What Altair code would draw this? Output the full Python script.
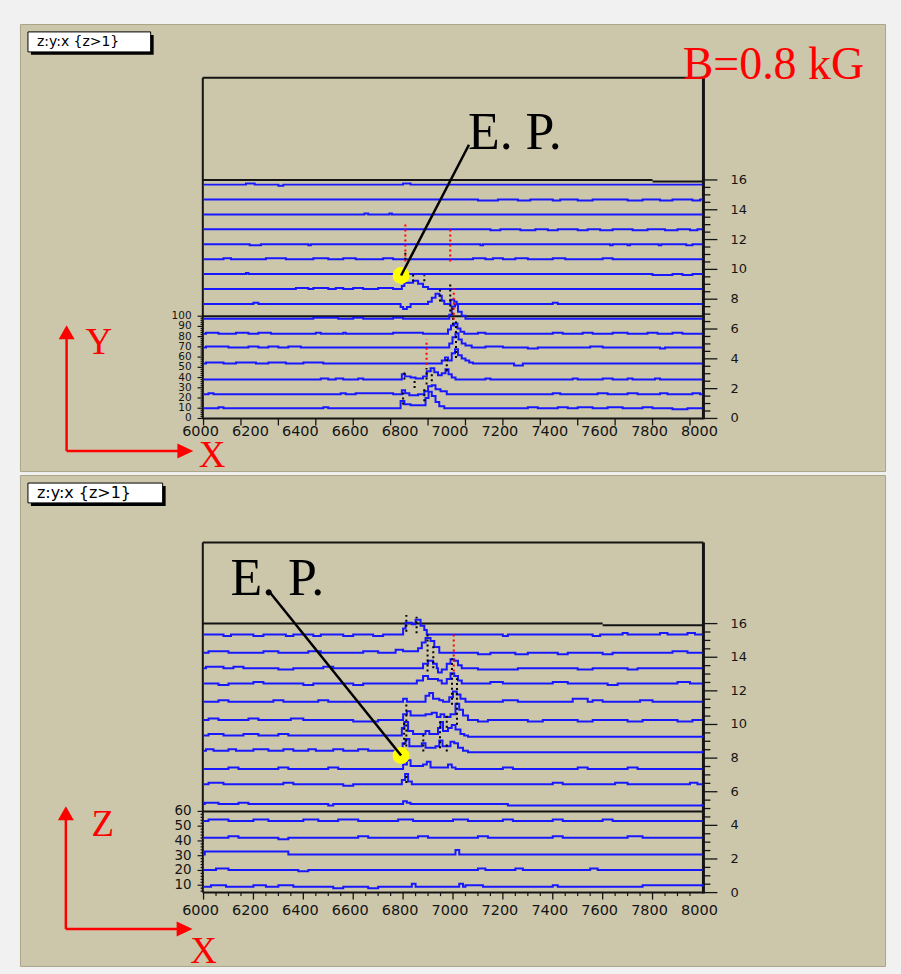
import altair as alt
import pandas as pd

# ---------- colours ----------
PAGE = "#f1f1f1"
TAN = "#ccc7ab"
BLUE = "#1818ff"
INK = "#141414"
RED = "#ff0000"
SPOT = "#ffff00"

# ---------- axis values ----------
X_DOMAIN = [5264, 8732]
X_LABELS = [6000, 6200, 6400, 6600, 6800, 7000, 7200, 7400, 7600, 7800, 8000]
ROW_LABELS = [0, 2, 4, 6, 8, 10, 12, 14, 16]
TOP_Z_LABELS = [0, 10, 20, 30, 40, 50, 60, 70, 80, 90, 100]
BOT_Z_LABELS = [10, 20, 30, 40, 50, 60]

# ---------- upper panel: 16 traces (baseline counts, small steps, peaks) ----------
TOP_BASE = [10, 9, 9, 10, 11, 10, 10, 10, 10, 10, 10, 10, 10, 10, 10, 10]
TOP_BLIPS = {
    0: [(6060, 6080, 1), (6480, 6500, 1), (7300, 7340, 1), (7420, 7460, 1), (7500, 7560, 1),
        (7620, 7680, 1), (7760, 7800, 1), (7880, 7940, -1)],
    1: [(6020, 6040, 1), (6550, 6570, 1), (6610, 6760, 1), (7400, 7430, 1), (7580, 7620, 1),
        (7700, 7740, 1), (7830, 7860, 1), (7960, 7990, 1)],
    2: [(6470, 6500, 1), (6530, 6560, 1), (6620, 6640, 1), (7130, 7150, 1), (7480, 7500, 1),
        (7600, 7640, 1), (7700, 7720, 1), (7810, 7830, 1)],
    3: [(6010, 6080, 1), (6130, 6210, 1), (6260, 6330, 1), (6400, 6480, 1), (7245, 7280, -2)],
    4: [(6010, 6100, 1), (6180, 6220, 1), (6260, 6300, 1), (6340, 6390, 1), (7130, 7200, 1),
        (7300, 7340, -1), (7550, 7600, 1), (7830, 7850, -1)],
    5: [(6010, 6060, 1), (6130, 6180, 1), (6220, 6270, 1), (6450, 6470, 1), (6560, 6570, 1),
        (6760, 6880, 1), (7100, 7130, 1), (7400, 7440, 1), (7520, 7560, 1), (7640, 7700, 1),
        (7780, 7820, 1), (7880, 7920, 1)],
    6: [(6440, 6540, 1), (6600, 6640, 1), (6760, 6800, 1)],
    7: [(6200, 6220, 1), (7400, 7420, 1)],
    8: [(6370, 6420, 1), (6440, 6500, 1), (6530, 6560, 1), (6600, 6640, 1), (6700, 6760, 1)],
    9: [(6170, 6180, 1), (7800, 7880, -1), (7920, 7960, -1)],
    10: [(6080, 6110, 1), (6250, 6330, 1), (6440, 6500, 1), (6560, 6610, 1), (6720, 6760, 1),
         (7080, 7130, 1), (7160, 7200, 1), (7250, 7300, 1), (7400, 7450, 1), (7600, 7640, 1)],
    11: [(6185, 6230, -1), (6420, 6430, -1), (7110, 7120, -1), (7630, 7640, -1), (7700, 7710, -1),
         (7825, 7835, -1), (7935, 7960, -1)],
    12: [(7150, 7190, -1), (7270, 7330, -1), (7380, 7420, -1), (7500, 7540, -1), (7590, 7640, -1),
         (7720, 7780, -1), (7850, 7900, -1), (7950, 7980, -1)],
    13: [(6645, 6660, 1), (6745, 6755, 1)],
    14: [(7100, 7180, -1), (7260, 7310, -1), (7400, 7430, -1), (7500, 7560, -1), (7700, 7760, -1),
         (7830, 7880, -1), (7960, 7990, -1)],
    15: [(6170, 6205, 1), (6300, 6320, -1), (6800, 6830, 1)],
}
TOP_PEAKS = {
    0: [(6790, 17), (6805, 14), (6830, 13), (6870, 13), (6890, 20), (6902, 26), (6915, 22),
        (6930, 16), (6945, 12), (6965, 10)],
    1: [(6795, 13), (6808, 10), (6825, 8), (6860, 9), (6885, 12), (6900, 17), (6915, 18),
        (6930, 14), (6950, 12), (6975, 9)],
    2: [(6795, 14), (6808, 12), (6830, 11), (6850, 10), (6880, 12), (6895, 17), (6910, 20),
        (6925, 16), (6940, 13), (6955, 15), (6970, 19), (6982, 14), (6995, 11), (7010, 9)],
    3: [(6955, 13), (6968, 16), (6980, 13), (6995, 20), (7008, 24), (7020, 18), (7035, 15),
        (7050, 13), (7065, 11), (7080, 10)],
    4: [(6985, 15), (6998, 21), (7010, 25), (7022, 19), (7035, 15), (7050, 13), (7075, 11)],
    5: [(6980, 14), (6992, 18), (7005, 20), (7018, 15), (7030, 12), (7045, 10)],
    6: [(6985, 14), (6995, 22), (7008, 24), (7020, 17), (7035, 13), (7050, 10)],
    7: [(6790, 7), (6800, 5), (6815, 7), (6830, 10), (6900, 12), (6915, 16), (6930, 20),
        (6945, 18), (6955, 13), (6965, 10), (6990, 14), (7005, 12), (7015, 10)],
    8: [(6795, 13), (6805, 16), (6840, 18), (6860, 15), (6880, 12), (6900, 10)],
}
# dotted columns (x, lower, upper) in row units
TOP_BLACK = [(6809, 10.64, 11.31), (6840, 9.19, 9.75), (6885, 9.2, 9.6), (6948, 7.85, 8.63),
             (6989, 7.18, 9.08), (7000, 6.29, 7.63), (7012, 4.06, 6.51), (6805, 2.61, 3.17),
             (6846, 2.05, 2.72), (6894, 2.28, 3.39), (6915, 2.5, 3.2), (6975, 3.17, 4.06),
             (6800, 0.94, 1.83), (6885, 1.16, 2.05)]
TOP_RED = [(6809, 10.53, 13.21), (6989, 10.53, 12.76), (7003, 6.63, 8.74), (6894, 3.61, 5.29)]

# ---------- lower panel ----------
BOT_BASE = [9, 9, 8, 8, 8, 8, 10, 9, 10, 9, 8, 9, 10, 9, 8, 9]
BOT_BLIPS = {
    0: [(6030, 6090, 1), (6200, 6250, 1), (6300, 6360, 1), (6520, 6560, -1), (6660, 6700, -1),
        (7050, 7120, 1), (7400, 7420, 1), (7760, 8000, 1)],
    1: [(6050, 6100, 1), (6380, 6420, -1), (7100, 7130, 1), (7250, 7280, 1), (7550, 7580, 1)],
    2: [(6005, 6340, 2)],
    3: [(6100, 6140, 1), (6300, 6340, -1), (6620, 6660, 1), (6860, 6900, 1), (7100, 7140, 1),
        (7400, 7440, 1), (7700, 7760, 1)],
    4: [(6020, 6100, 1), (6200, 6260, 1), (6400, 6460, 1), (6540, 6620, 1), (6780, 6840, 1),
        (7000, 7060, 1), (7200, 7240, 1), (7400, 7440, 1), (7600, 7640, 1)],
    5: [(6005, 6060, 1), (6140, 6180, 1), (6500, 6520, -1), (7220, 8000, -1)],
    6: [(6020, 6080, 1), (6320, 6360, 1), (6560, 6600, -1), (7400, 7440, 1), (7650, 7700, 1),
        (7950, 7980, 1)],
    7: [(6100, 6140, 1), (6300, 6340, 1), (6500, 6540, 1), (7200, 7240, 1), (7500, 7540, 1),
        (7700, 7740, 1)],
    8: [(6010, 6040, 1), (6100, 6130, 1), (6200, 6260, 1), (6320, 6360, 1), (6420, 6450, 1),
        (6520, 6560, 1), (6620, 6660, 1), (7060, 8000, -1)],
    9: [(6020, 6080, 1), (6160, 6220, 1), (6300, 6340, 1), (7060, 8000, -1)],
    10: [(6020, 6060, 1), (6180, 6220, 1), (6350, 6400, 1), (6600, 6700, -1), (7100, 7140, -1),
         (7300, 7360, -1), (7500, 7560, -1), (7700, 7760, -1), (7900, 7960, -1)],
    11: [(6060, 6100, 1), (6280, 6320, 1), (6460, 6500, 1), (7200, 7260, 1), (7480, 7540, 2),
         (7560, 7600, 1), (7750, 7800, 1)],
    12: [(6060, 6100, -1), (6200, 6240, 1), (6400, 6440, -1), (6600, 6640, -1), (7150, 7200, 1),
         (7400, 7460, 1), (7620, 7660, -1), (7900, 7950, 1)],
    13: [(6010, 6080, 1), (6120, 6160, 1), (6300, 6360, -1), (6480, 6520, 1), (7100, 7260, -1),
         (7500, 7560, -1), (7700, 7740, -1)],
    14: [(6020, 6100, 1), (6240, 6300, 1), (6420, 6470, 1), (6640, 6700, 1), (7100, 7150, -1),
         (7250, 7300, -1), (7420, 7460, -1), (7600, 7640, -1), (7880, 7940, 1)],
    15: [(6080, 6110, -1), (6200, 6240, -1), (6330, 6360, -1), (6440, 6470, -1), (6560, 6600, -1),
         (6680, 6720, -1), (7200, 7220, -1), (7560, 7590, -1), (7680, 7700, 1), (7830, 7860, 1),
         (7940, 7970, 1)],
}
BOT_PEAKS = {
    0: [(6835, 11), (6850, 9), (7025, 11), (7040, 9)],
    2: [(7010, 11), (7025, 8)],
    5: [(6800, 10), (6815, 9), (6830, 8)],
    6: [(6795, 13), (6808, 17), (6820, 12), (6835, 10)],
    7: [(6800, 12), (6815, 15), (6830, 11), (6880, 12), (6895, 14), (6910, 10), (6980, 12),
        (6995, 10), (7010, 9)],
    8: [(6798, 15), (6810, 18), (6825, 13), (6850, 13), (6875, 15), (6890, 12), (6930, 13),
        (6945, 17), (6958, 13), (6975, 13), (6990, 16), (7005, 15), (7020, 12), (7040, 10)],
    9: [(6795, 14), (6805, 18), (6820, 12), (6840, 10), (6890, 12), (6905, 10), (6940, 14),
        (6950, 18), (6960, 12), (6980, 14), (6995, 16), (7010, 13), (7030, 10), (7045, 9)],
    10: [(6800, 12), (6815, 14), (6830, 11), (6890, 12), (6915, 13), (6935, 10), (6950, 12),
         (6965, 10), (6990, 12), (7010, 19), (7025, 15), (7040, 11), (7060, 8)],
    11: [(6800, 11), (6815, 9), (6890, 13), (6905, 15), (6920, 11), (6945, 10), (6960, 9),
         (6985, 12), (7000, 16), (7015, 14), (7030, 11), (7050, 9)],
    12: [(6855, 12), (6880, 15), (6900, 13), (6940, 12), (6955, 10), (6975, 13), (6990, 17),
         (7005, 15), (7020, 12), (7035, 10)],
    13: [(6880, 12), (6900, 14), (6920, 12), (6935, 9), (6940, 6), (6955, 8), (6975, 12),
         (6990, 15), (7005, 14), (7020, 11), (7035, 9)],
    14: [(6770, 10), (6800, 9), (6860, 11), (6875, 15), (6890, 18), (6910, 16), (6925, 12),
         (6945, 8)],
    15: [(6800, 13), (6810, 17), (6835, 16), (6850, 19), (6870, 15), (6885, 12), (6895, 9)],
}
BOT_BLACK = [(6813, 15.52, 16.51), (6854, 15.42, 16.41), (6898, 13.15, 15.52), (6921, 13.34, 14.73),
             (6996, 11.17, 13.93), (7016, 9.98, 12.75), (6813, 8.4, 11.36), (6804, 8.8, 10.18),
             (6813, 6.52, 7.01), (6948, 8.59, 10.18), (6881, 8.4, 9.39), (6975, 8.4, 8.99),
             (6975, 9.8, 10.6)]
BOT_RED = [(7003, 13.15, 15.52)]

# ---------- panel geometry and annotations ----------
TOP = dict(
    height=448, u_domain=[-3.527, 26.459], zmin=0, zmax=100, k=0.0686, pu=1 / 14.94,
    z_labels=TOP_Z_LABELS, z_font=10.5, z_tick_start=0, back_step=(7800, 0.11),
    x_major=[6000 + 150 * i for i in range(14)], x_minor=[], xlab_px=14.0,
    base=TOP_BASE, blips=TOP_BLIPS, peaks=TOP_PEAKS, black=TOP_BLACK, red=TOP_RED,
    dot=(6792, 9.59), pointer_end=(7064, 18.36), ep=(7060, 18.09),
    arrow_x=5451, arrow_u=-2.19, head_up=5.78, shaft_top=5.5, head_right=5927, shaft_right=5900,
    letter_v=("Y", 5580, 4.30), letter_h=("X", 6034, -3.26),
    box=(5296, 5788, 24.59, 25.93), shadow=(5308, 5800, 24.39, 25.73), box_text=(5332, 25.25, 14),
    field=("B=0.8 kG", 8648, 22.78),
)
BOT = dict(
    height=492, u_domain=[-4.362, 24.837], zmin=5, zmax=60, k=0.0878, pu=1 / 16.85,
    z_labels=BOT_Z_LABELS, z_font=13.5, z_tick_start=6, back_step=(7600, 0.1),
    x_major=[6000 + 200 * i for i in range(10)],
    x_minor=[x for x in range(6050, 8000, 50) if x % 200], xlab_px=18.0,
    base=BOT_BASE, blips=BOT_BLIPS, peaks=BOT_PEAKS, black=BOT_BLACK, red=BOT_RED,
    dot=(6792, 8.16), pointer_end=(6264, 17.89), ep=(6108, 17.71),
    arrow_x=5448, arrow_u=-2.17, head_up=4.72, shaft_top=4.5, head_right=5924, shaft_right=5897,
    letter_v=("Z", 5596, 3.35), letter_h=("X", 6000, -4.18),
    box=(5296, 5836, 23.18, 24.36), shadow=(5308, 5848, 23.0, 24.18), box_text=(5332, 23.77, 16),
    field=None,
)


def trace_table(p):
    recs = []
    for r, b in enumerate(p["base"]):
        verts = [(6000, b)]
        for x0, x1, d in p["blips"].get(r, []):
            verts += [(x0, b + d), (x1, b)]
        verts += p["peaks"].get(r, [])
        verts.append((8000, b))
        verts.sort(key=lambda v: v[0])
        for i, (x, c) in enumerate(verts):
            recs.append({"row": r, "order": i, "x": x, "u": r + (c - p["zmin"]) * p["k"]})
    return pd.DataFrame(recs)


def frame_table(p):
    k, zmin, zmax, pu = p["k"], p["zmin"], p["zmax"], p["pu"]
    front = (zmax - zmin) * k
    top = 16 + front
    xl, xr = 5997, 8004
    sx, sdu = p["back_step"]
    segs = [
        (xl, xl, 0, top, 2), (xr, xr, -0.05, top, 3), (xl, xr, top, top, 2),
        (xl, sx, 16, 16, 2), (sx, xr, 16 - sdu, 16 - sdu, 2),
        (xl, xr, front, front, 2), (xl, xr, 0, 0, 2),
    ]
    for h in range(33):
        ln = 15 if h % 4 == 0 else 8
        segs.append((8000, 8000 + 4 * ln, h / 2, h / 2, 1.3))
    for c in range(p["z_tick_start"], zmax + 1, 2):
        ln = 6 if c % 10 == 0 else 3
        u = (c - zmin) * k
        segs.append((6000 - 4 * ln, 6000, u, u, 1.2))
    for x in p["x_major"]:
        segs.append((x, x, -7 * pu, 0, 1.3))
    for x in p["x_minor"]:
        segs.append((x, x, -3.5 * pu, 0, 1.2))
    return pd.DataFrame(segs, columns=["x", "x2", "u", "u2", "w"])


def panel(p):
    xs = alt.Scale(domain=X_DOMAIN, nice=False, zero=False)
    ys = alt.Scale(domain=p["u_domain"], nice=False, zero=False)

    def X(f):
        return alt.X(f, type="quantitative", scale=xs, axis=None)

    def Y(f):
        return alt.Y(f, type="quantitative", scale=ys, axis=None)

    layers = []
    frame = alt.Chart(frame_table(p)).mark_rule(color=INK).encode(
        x=X("x"), x2="x2", y=Y("u"), y2="u2", strokeWidth=alt.StrokeWidth("w:Q", scale=None))
    layers.append(frame)

    traces = alt.Chart(trace_table(p)).mark_line(
        interpolate="step-after", color=BLUE, strokeWidth=2).encode(
        x=X("x"), y=Y("u"), detail="row:N", order="order:Q")
    layers.append(traces)

    for cols, colour in ((p["black"], "#000000"), (p["red"], RED)):
        df = pd.DataFrame(cols, columns=["x", "u", "u2"])
        layers.append(alt.Chart(df).mark_rule(color=colour, strokeWidth=2, strokeDash=[2, 3]).encode(
            x=X("x"), y=Y("u"), y2="u2"))

    # entry point marker and pointer
    dx, du = p["dot"]
    ex, eu = p["pointer_end"]
    layers.append(alt.Chart(pd.DataFrame({"x": [dx], "u": [du]})).mark_point(
        shape="circle", filled=True, color=SPOT, size=290, opacity=1).encode(x=X("x"), y=Y("u")))
    layers.append(alt.Chart(pd.DataFrame({"x": [dx], "x2": [ex], "u": [du], "u2": [eu]})).mark_rule(
        color="#000000", strokeWidth=2.5).encode(x=X("x"), x2="x2", y=Y("u"), y2="u2"))
    tx, tu = p["ep"]
    layers.append(alt.Chart(pd.DataFrame({"x": [tx], "u": [tu], "t": ["E. P."]})).mark_text(
        font="Liberation Serif", fontSize=52, align="left", baseline="alphabetic", color="#000000").encode(
        x=X("x"), y=Y("u"), text="t:N"))

    # red direction arrows
    ax, au = p["arrow_x"], p["arrow_u"]
    shafts = pd.DataFrame({"x": [ax, ax], "x2": [ax, p["shaft_right"]],
                           "u": [au, au], "u2": [p["shaft_top"], au]})
    layers.append(alt.Chart(shafts).mark_rule(color=RED, strokeWidth=2.5).encode(
        x=X("x"), x2="x2", y=Y("u"), y2="u2"))
    layers.append(alt.Chart(pd.DataFrame({"x": [ax], "u": [p["head_up"]]})).mark_point(
        shape="M0,-1L1.14,1L-1.14,1Z", filled=True, color=RED, size=196, opacity=1).encode(
        x=X("x"), y=Y("u")))
    layers.append(alt.Chart(pd.DataFrame({"x": [p["head_right"]], "u": [au]})).mark_point(
        shape="M1,0L-1,0.94L-1,-0.94Z", filled=True, color=RED, size=256, opacity=1).encode(
        x=X("x"), y=Y("u")))
    letters = pd.DataFrame([p["letter_v"], p["letter_h"]], columns=["t", "x", "u"])
    # clipped to the panel so the letters' descender space does not enlarge the layout
    layers.append(alt.Chart(letters).mark_text(
        font="Liberation Serif", fontSize=37, align="center", baseline="alphabetic", color=RED,
        clip=True).encode(x=X("x"), y=Y("u"), text="t:N"))

    # tick labels
    xl = pd.DataFrame({"x": X_LABELS, "u": -p["xlab_px"] * p["pu"], "t": [str(v) for v in X_LABELS]})
    layers.append(alt.Chart(xl).mark_text(
        font="DejaVu Sans", fontSize=14.5, align="center", baseline="middle", dx=-3, color=INK).encode(
        x=X("x"), y=Y("u"), text="t:N"))
    rl = pd.DataFrame({"x": 8112, "u": ROW_LABELS, "t": [str(v) for v in ROW_LABELS]})
    layers.append(alt.Chart(rl).mark_text(
        font="DejaVu Sans", fontSize=13, align="left", baseline="middle", color=INK).encode(
        x=X("x"), y=Y("u"), text="t:N"))
    zl = pd.DataFrame({"x": 5952, "u": [(c - p["zmin"]) * p["k"] for c in p["z_labels"]],
                       "t": [str(c) for c in p["z_labels"]]})
    layers.append(alt.Chart(zl).mark_text(
        font="DejaVu Sans", fontSize=p["z_font"], align="right", baseline="middle", color=INK).encode(
        x=X("x"), y=Y("u"), text="t:N"))

    # title box with drop shadow
    sx0, sx1, su0, su1 = p["shadow"]
    bx0, bx1, bu0, bu1 = p["box"]
    layers.append(alt.Chart(pd.DataFrame({"x": [sx0], "x2": [sx1], "u": [su0], "u2": [su1]})).mark_rect(
        color="#000000").encode(x=X("x"), x2="x2", y=Y("u"), y2="u2"))
    layers.append(alt.Chart(pd.DataFrame({"x": [bx0], "x2": [bx1], "u": [bu0], "u2": [bu1]})).mark_rect(
        fill="#ffffff", stroke="#000000", strokeWidth=1).encode(x=X("x"), x2="x2", y=Y("u"), y2="u2"))
    btx, btu, bfs = p["box_text"]
    layers.append(alt.Chart(pd.DataFrame({"x": [btx], "u": [btu], "t": ["z:y:x {z>1}"]})).mark_text(
        font="DejaVu Sans", fontSize=bfs, align="left", baseline="middle", color="#000000").encode(
        x=X("x"), y=Y("u"), text="t:N"))

    if p["field"]:
        ft, fx, fu = p["field"]
        layers.append(alt.Chart(pd.DataFrame({"x": [fx], "u": [fu], "t": [ft]})).mark_text(
            font="Liberation Serif", fontSize=46, align="right", baseline="alphabetic", color=RED).encode(
            x=X("x"), y=Y("u"), text="t:N"))

    return alt.layer(*layers).properties(width=867, height=p["height"])


chart = alt.vconcat(panel(TOP), panel(BOT), spacing=2).resolve_scale(
    x="independent", y="independent").properties(
    background=PAGE, padding={"left": 19, "top": 22, "right": 15, "bottom": 9}).configure_view(
    fill=TAN, stroke="#aaa58a", strokeWidth=1)

chart.save("out.html", embed_options={"renderer": "svg", "actions": False})
